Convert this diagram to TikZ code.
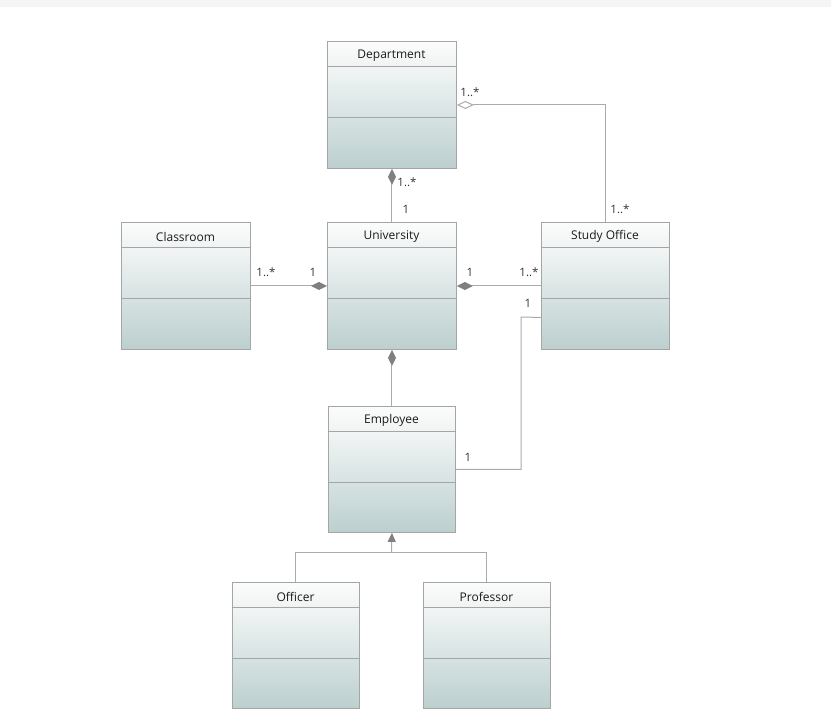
\documentclass[tikz,border=0pt]{standalone}
\usepackage{fontspec}
\setmainfont{Open Sans}
\usetikzlibrary{arrows.meta}
\definecolor{bandgray}{HTML}{F4F5F7}
\definecolor{boxline}{HTML}{A4A6A6}
\definecolor{hdrtop}{HTML}{FBFCFC}
\definecolor{hdrbot}{HTML}{F1F3F3}
\definecolor{bodytop}{HTML}{F2F5F5}
\definecolor{bodybot}{HTML}{BCCFCF}
\definecolor{connline}{HTML}{ABABAB}
\definecolor{tipgray}{HTML}{808080}
\definecolor{txt}{HTML}{1A1A1A}
\definecolor{multxt}{HTML}{333333}

\tikzset{
  classframe/.style={draw=boxline, line width=0.9pt, inner sep=0pt, anchor=north west},
  classtitle/.style={font=\fontsize{12}{14}\selectfont, text=txt, inner sep=0pt},
  divider/.style={draw=boxline, line width=0.9pt},
  assoc/.style={draw=connline, line width=1pt},
  composite/.style={assoc, -{Diamond[length=16pt,width=8pt,color=tipgray,fill=tipgray]}},
  aggregate/.style={assoc, -{Diamond[open,length=17pt,width=8pt,color=connline,fill=white]}},
  generalize/.style={assoc, -{Triangle[length=9pt,width=8pt,color=tipgray,fill=tipgray]}},
  mult/.style={font=\fontsize{11.5}{13}\selectfont, text=multxt, inner sep=0pt}
}

% class box: name, title, left, top, width, height
\newcommand{\umlclass}[6]{%
  \shade[top color=hdrtop, bottom color=hdrbot] (#3,#4) rectangle (#3+#5,#4+25);
  \shade[top color=bodytop, bottom color=bodybot] (#3,#4+25) rectangle (#3+#5,#4+#6);
  \node[classframe, minimum width=#5pt, minimum height=#6pt] (#1) at (#3,#4) {};
  \draw[divider] (#3,#4+25) -- (#3+#5,#4+25);
  \draw[divider] (#3,#4+76) -- (#3+#5,#4+76);
  \node[classtitle] (#1-title) at (#3+#5/2,#4+14.5) {#2};
}

\begin{document}
\begin{tikzpicture}[x=1pt,y=-1pt]
  \useasboundingbox (0,0) rectangle (831,723);
  \fill[bandgray] (0,0) rectangle (831,7);

  \umlclass{dept}{Department}{327}{41}{129}{127}
  \umlclass{classroom}{Classroom}{121}{222}{129}{127}
  \umlclass{univ}{University}{327}{222}{129}{127}
  \umlclass{study}{Study Office}{541}{222}{128}{127}
  \umlclass{emp}{Employee}{328}{406}{127}{126}
  \umlclass{officer}{Officer}{232}{582}{127}{126}
  \umlclass{prof}{Professor}{423}{582}{127}{126}

  % associations
  \draw[composite] (univ.north) -- (dept.south);
  \draw[aggregate] (study.north) |- (dept.east);
  \draw[composite] (classroom.east) -- (univ.west);
  \draw[composite] (study.west) -- (univ.east);
  \draw[composite] (emp.north) -- (univ.south);
  \coordinate (bend) at (521,317);
  \draw[assoc] ([yshift=-31.5pt]study.west) -- (bend) |- (emp.east);

  % generalization
  \coordinate (gen) at (391.5,552);
  \draw[assoc] (officer.north) |- (gen);
  \draw[assoc] (prof.north) |- (gen);
  \draw[generalize] (gen) -- (emp.south);

  % multiplicities
  \node[mult] (m1) at (407,182) {1..*};
  \node[mult] (m2) at (406,209) {1};
  \node[mult] (m3) at (470,92) {1..*};
  \node[mult] (m4) at (620,209) {1..*};
  \node[mult] (m5) at (266,272) {1..*};
  \node[mult] (m6) at (313,272) {1};
  \node[mult] (m7) at (470,272) {1};
  \node[mult] (m8) at (529,272) {1..*};
  \node[mult] (m9) at (528,303) {1};
  \node[mult] (m10) at (468,457) {1};
\end{tikzpicture}
\end{document}
